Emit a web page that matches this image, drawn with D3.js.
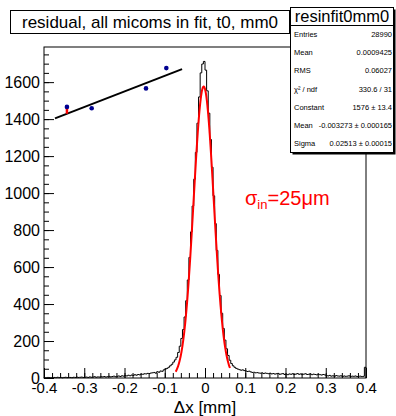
<!DOCTYPE html>
<html>
<head>
<meta charset="utf-8">
<title>resinfit0mm0</title>
<style>
    body { margin: 0; background: #fff; }
    svg { display: block; font-family: "Liberation Sans", Arial, sans-serif; }
    .tick line { stroke: #000; }
</style>
</head>
<body>
<div id="chart"></div>
<script src="https://cdn.jsdelivr.net/npm/d3@7"></script>
<script>
    // histogram binning: 200 bins, -0.4 .. 0.4 mm
    var binLow = -0.4, binHigh = 0.4;

    // bin contents (left tail, core, right tail)
    var tailLeft = [2, 1, 3, 2, 1, 2, 3, 2, 4, 2, 3, 1, 3, 4, 2, 3, 3, 2, 4, 3, 5, 3, 4, 5, 3,
                    4, 5, 3, 6, 4, 5, 7, 4, 6, 5, 7, 6, 8, 5, 7, 9, 6, 8, 10, 7, 9, 11, 8, 12, 10,
                    13, 11, 15, 12, 16, 14, 18, 15, 19, 17, 21, 20, 23, 22, 25, 24, 27];
    var core = [28, 30, 26, 34, 31, 38, 36, 44, 48, 52, 58, 66, 74, 86, 98, 112, 138, 172, 214, 262,
                330, 418, 530, 652, 790, 930, 1075, 1220, 1378, 1520, 1650, 1698, 1712,
                1665, 1553, 1432, 1290, 1140, 985, 835, 690, 560, 446, 350, 268, 205, 158, 122, 96,
                78, 66, 58, 52, 48, 45, 42, 44, 40, 38, 35, 37, 33, 30, 31, 28, 29, 27];
    var tailRight = [26, 28, 24, 27, 25, 23, 26, 22, 24, 21, 23, 25, 20, 22, 24, 19,
                     21, 18, 22, 20, 23, 19, 21, 24, 20, 22, 18, 21, 23, 19, 20, 22, 18, 21, 19, 17, 20, 18, 16, 19, 17,
                     13, 11, 14, 10, 12, 9, 13, 11, 10, 12, 8, 11, 9, 10, 12, 8, 10, 9, 11, 8, 9, 10, 8, 9, 58];
    var counts = tailLeft.concat(core, tailRight);

    var xTicks = [-0.4, -0.3, -0.2, -0.1, 0, 0.1, 0.2, 0.3, 0.4];
    var yTicks = [0, 200, 400, 600, 800, 1000, 1200, 1400, 1600];

    // gaussian fit result
    var fitConst = 1576, fitMean = -0.003273, fitSigma = 0.02513;
    var fitRange = [-0.073, 0.062];

    // small inset (points, line, residual bar) in plot units
    var insetX = [-0.343, -0.2815, -0.1466, -0.0961];
    var insetY = [1466, 1459, 1566, 1676];
    var insetLineX = [-0.3727, -0.057];
    var insetLineY = [1404, 1670];
    var residualY = [1466, 1429];

    // stats box
    var statNames = ["Entries", "Mean", "RMS", "\u03c7\u00b2 / ndf", "Constant", "Mean", "Sigma"];
    var statValues = ["28990", "0.0009425", "0.06027", "330.6 / 31", "1576 \u00b1 13.4",
                      "-0.003273 \u00b1 0.000165", "0.02513 \u00b1 0.00015"];

    var width = 396, height = 416;
    var frame = { left: 44, right: 366, top: 47, bottom: 378 };

    var svg = d3.select("#chart").append("svg")
        .attr("width", width)
        .attr("height", height);

    svg.append("rect").attr("width", width).attr("height", height).attr("fill", "#fff");

    var x = d3.scaleLinear().domain([binLow, binHigh]).range([frame.left, frame.right]);
    var y = d3.scaleLinear().domain([0, 1790]).range([frame.bottom, frame.top]);

    // histogram outline
    var binW = (binHigh - binLow) / counts.length;
    var pts = [[binLow, 0]];
    counts.forEach(function(c, i) {
        pts.push([binLow + i * binW, c]);
        pts.push([binLow + (i + 1) * binW, c]);
    });
    pts.push([binHigh, 0]);

    var line = d3.line()
        .x(function(d) { return x(d[0]); })
        .y(function(d) { return y(d[1]); });

    svg.append("path")
        .attr("d", line(pts))
        .attr("fill", "none")
        .attr("stroke", "#000")
        .attr("stroke-width", 1);

    // fit curve
    var fitPts = d3.range(fitRange[0], fitRange[1] + 1e-9, 0.0005).map(function(v) {
        var z = (v - fitMean) / fitSigma;
        return [v, fitConst * Math.exp(-0.5 * z * z)];
    });
    svg.append("path")
        .attr("d", line(fitPts))
        .attr("fill", "none")
        .attr("stroke", "#ff0000")
        .attr("stroke-width", 2);

    // axes
    var xAxis = svg.append("g")
        .attr("transform", "translate(0," + frame.bottom + ")")
        .call(d3.axisBottom(x).tickValues(xTicks).tickSize(-10).tickPadding(4)
            .tickFormat(function(d) { return d === 0 ? "0" : String(d); }));
    xAxis.select(".domain").remove();
    xAxis.selectAll("text").attr("font-size", 15).attr("fill", "#000");

    var xMinor = svg.append("g")
        .attr("transform", "translate(0," + frame.bottom + ")")
        .call(d3.axisBottom(x).tickValues(d3.range(-0.4, 0.4001, 0.02)).tickSize(-5).tickFormat(""));
    xMinor.select(".domain").remove();

    var yAxis = svg.append("g")
        .attr("transform", "translate(" + frame.left + ",0)")
        .call(d3.axisLeft(y).tickValues(yTicks).tickSize(-10).tickPadding(4)
            .tickFormat(function(d) { return String(d); }));
    yAxis.select(".domain").remove();
    yAxis.selectAll("text").attr("font-size", 16).attr("fill", "#000");

    var yMinor = svg.append("g")
        .attr("transform", "translate(" + frame.left + ",0)")
        .call(d3.axisLeft(y).tickValues(d3.range(0, 1751, 50)).tickSize(-5).tickFormat(""));
    yMinor.select(".domain").remove();

    svg.append("rect")
        .attr("x", frame.left).attr("y", frame.top)
        .attr("width", frame.right - frame.left).attr("height", frame.bottom - frame.top)
        .attr("fill", "none").attr("stroke", "#000");

    svg.append("text")
        .attr("x", (frame.left + frame.right) / 2).attr("y", 413)
        .attr("text-anchor", "middle").attr("font-size", 17)
        .text("\u0394x [mm]");

    // inset
    svg.append("path")
        .attr("d", line(insetLineX.map(function(v, i) { return [v, insetLineY[i]]; })))
        .attr("stroke", "#000").attr("stroke-width", 2);
    svg.append("path")
        .attr("d", line(residualY.map(function(v) { return [insetX[0], v]; })))
        .attr("stroke", "#ff0000").attr("stroke-width", 2.5);
    svg.selectAll(".pt")
        .data(insetX)
        .enter().append("circle")
        .attr("class", "pt")
        .attr("cx", function(d) { return x(d); })
        .attr("cy", function(d, i) { return y(insetY[i]); })
        .attr("r", 2.3)
        .attr("fill", "#000090");

    // sigma label
    var lab = svg.append("text")
        .attr("x", 245).attr("y", 205)
        .attr("font-size", 20).attr("fill", "#ff0000");
    lab.append("tspan").text("\u03c3");
    lab.append("tspan").attr("font-size", 13).attr("dy", 4).text("in");
    lab.append("tspan").attr("dy", -4).text("=25\u03bcm");

    // title box
    svg.append("rect")
        .attr("x", 10.5).attr("y", 10.5).attr("width", 279).attr("height", 23)
        .attr("fill", "#fff").attr("stroke", "#000");
    svg.append("text")
        .attr("x", 150).attr("y", 27.5)
        .attr("text-anchor", "middle").attr("font-size", 17)
        .text("residual, all micoms in fit, t0, mm0");

    // stats box with shadow
    var sb = { x: 290.5, y: 7.5, w: 103, h: 145 };
    svg.append("rect")
        .attr("x", sb.x + 2).attr("y", sb.y + 2).attr("width", sb.w).attr("height", sb.h)
        .attr("fill", "#000");
    svg.append("rect")
        .attr("x", sb.x).attr("y", sb.y).attr("width", sb.w).attr("height", sb.h)
        .attr("fill", "#fff").attr("stroke", "#000");
    svg.append("line")
        .attr("x1", sb.x).attr("x2", sb.x + sb.w).attr("y1", 25.5).attr("y2", 25.5)
        .attr("stroke", "#000");
    svg.append("text")
        .attr("x", sb.x + sb.w / 2).attr("y", 22)
        .attr("text-anchor", "middle").attr("font-size", 16.5)
        .text("resinfit0mm0");

    var rows = d3.scaleBand().domain(d3.range(statNames.length)).range([25.5, sb.y + sb.h]);
    statNames.forEach(function(n, i) {
        var cy = rows(i) + rows.bandwidth() / 2;
        svg.append("text")
            .attr("x", 294).attr("y", cy).attr("dy", "0.35em")
            .attr("font-size", 7.5).text(n);
        svg.append("text")
            .attr("x", 392).attr("y", cy).attr("dy", "0.35em")
            .attr("text-anchor", "end").attr("font-size", 7.5).text(statValues[i]);
    });
</script>
</body>
</html>
